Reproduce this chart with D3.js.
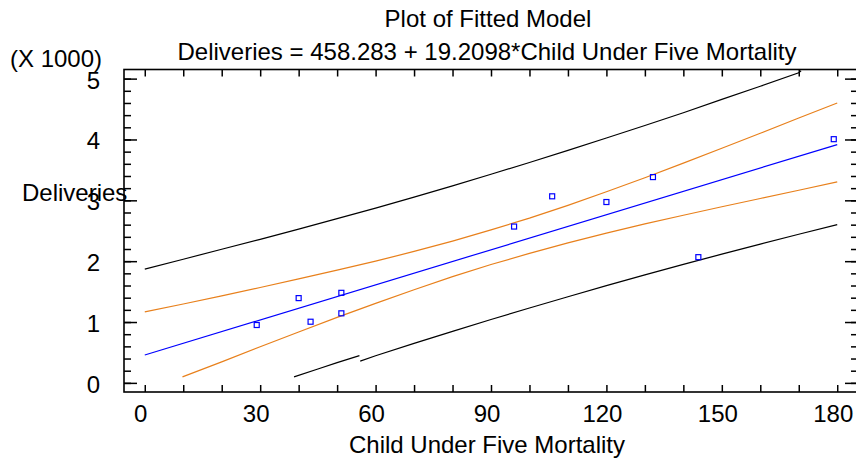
<!DOCTYPE html>
<html>
<head>
<meta charset="utf-8">
<script src="https://cdn.jsdelivr.net/npm/d3@7"></script>
<style>
  body { margin: 0; background: #fff; }
  text { font-family: "Liberation Sans", Arial, sans-serif; fill: #000; }
</style>
</head>
<body>
<svg id="chart" width="856" height="461"></svg>
<script>
// observations (deliveries in thousands)
const mortality  = [29.1, 40.0, 43.1, 51.1, 51.1, 96.0, 105.9, 120.0, 132.1, 143.9, 179.1];
const deliveries = [0.951, 1.393, 1.005, 1.480, 1.143, 2.569, 3.066, 2.972, 3.382, 2.066, 4.005];

// fitted line
const fitX = [0, 180];
const fitY = [0.458, 3.916];

// confidence limits (orange)
const upperConfX = [0, 10, 20, 30, 40, 50, 60, 70, 80, 90, 100, 110, 120, 130, 140, 150, 160, 170, 180];
const upperConfY = [1.167, 1.296, 1.429, 1.567, 1.710, 1.852, 2.000, 2.160, 2.330, 2.515, 2.708, 2.918, 3.140, 3.372, 3.612, 3.855, 4.102, 4.352, 4.600];
const lowerConfX = [9.8, 20, 30, 40, 50, 60, 70, 80, 90, 100, 110, 120, 130, 140, 150, 160, 170, 180];
const lowerConfY = [0.098, 0.345, 0.593, 0.837, 1.076, 1.307, 1.531, 1.745, 1.945, 2.128, 2.300, 2.460, 2.612, 2.755, 2.895, 3.030, 3.165, 3.303];

// prediction limits (black); the lower one is drawn in two pieces
const upperPredX = [0, 10, 20, 30, 40, 50, 60, 70, 80, 90, 100, 110, 120, 130, 140, 150, 160, 170, 170.6];
const upperPredY = [1.870, 2.032, 2.196, 2.358, 2.528, 2.698, 2.872, 3.053, 3.238, 3.428, 3.622, 3.821, 4.024, 4.230, 4.440, 4.659, 4.874, 5.095, 5.13];
const lowerPredAX = [38.8, 45, 50, 55.8];
const lowerPredAY = [0.098, 0.228, 0.332, 0.447];
const lowerPredBX = [56.0, 60, 70, 80, 90, 100, 110, 120, 130, 140, 150, 160, 170, 180];
const lowerPredBY = [0.358, 0.445, 0.648, 0.847, 1.041, 1.231, 1.416, 1.597, 1.774, 1.947, 2.116, 2.281, 2.442, 2.600];

// axis labels
const xTickLabels = [0, 30, 60, 90, 120, 150, 180];
const yTickLabels = [0, 1, 2, 3, 4, 5];

const svg = d3.select("#chart");
const plotLeft = 124, plotRight = 858, plotTop = 69.5, plotBottom = 392;

const x = d3.scaleLinear().domain([-5.4, 185.4]).range([plotLeft, plotRight]);
const y = d3.scaleLinear().domain([-0.15, 5.15]).range([plotBottom, plotTop]);

// ticks, all pointing inward
const xMinor = d3.range(0, 181, 10);
const yMinor = d3.range(0, 5.01, 0.2);

function styleAxis(g) {
  g.select(".domain").remove();
  g.selectAll(".tick line").attr("stroke", "#000").attr("stroke-width", 1.5);
  g.selectAll(".tick text").remove();
}

svg.append("g").attr("transform", `translate(0,${plotBottom})`)
  .call(d3.axisBottom(x).tickValues(xMinor).tickSize(-7)).call(styleAxis);
svg.append("g").attr("transform", `translate(0,${plotTop})`)
  .call(d3.axisTop(x).tickValues(xMinor).tickSize(-7)).call(styleAxis);
svg.append("g").attr("transform", `translate(${plotLeft},0)`)
  .call(d3.axisLeft(y).tickValues(yMinor).tickSize(-7)).call(styleAxis);
svg.append("g").attr("transform", `translate(${plotLeft},0)`)
  .call(d3.axisLeft(y).tickValues(yTickLabels).tickSize(-13)).call(styleAxis);
svg.append("g").attr("transform", `translate(${plotRight},0)`)
  .call(d3.axisRight(y).tickValues(yMinor).tickSize(-7)).call(styleAxis);
svg.append("g").attr("transform", `translate(${plotRight},0)`)
  .call(d3.axisRight(y).tickValues(yTickLabels).tickSize(-13)).call(styleAxis);

// frame
svg.append("rect")
  .attr("x", plotLeft).attr("y", plotTop)
  .attr("width", plotRight - plotLeft).attr("height", plotBottom - plotTop)
  .attr("fill", "none").attr("stroke", "#000").attr("stroke-width", 1.6);

// curves
const line = d3.line().x(d => x(d[0])).y(d => y(d[1]));
function curve(xs, ys, color) {
  svg.append("path")
    .datum(d3.zip(xs, ys))
    .attr("d", line)
    .attr("fill", "none")
    .attr("stroke", color)
    .attr("stroke-width", 1.2);
}
curve(upperPredX, upperPredY, "#000");
curve(lowerPredAX, lowerPredAY, "#000");
curve(lowerPredBX, lowerPredBY, "#000");
curve(upperConfX, upperConfY, "#e8801c");
curve(lowerConfX, lowerConfY, "#e8801c");
curve(fitX, fitY, "#0000ff");

// observed points
svg.append("g").selectAll("rect")
  .data(d3.zip(mortality, deliveries))
  .enter()
  .append("rect")
  .attr("x", d => x(d[0]) - 2.5)
  .attr("y", d => y(d[1]) - 2.5)
  .attr("width", 5).attr("height", 5)
  .attr("fill", "none")
  .attr("stroke", "#0000ff")
  .attr("stroke-width", 1.2);

// tick labels
svg.append("g").selectAll("text")
  .data(xTickLabels)
  .enter()
  .append("text")
  .attr("x", d => x(d) - 4)
  .attr("y", 422)
  .attr("text-anchor", "middle")
  .style("font-size", "24px")
  .text(d => d);

svg.append("g").selectAll("text")
  .data(yTickLabels)
  .enter()
  .append("text")
  .attr("x", 100)
  .attr("y", d => y(d) + 10)
  .attr("text-anchor", "end")
  .style("font-size", "24px")
  .text(d => d);

// titles
svg.append("text").attr("x", 488).attr("y", 27).attr("text-anchor", "middle")
  .style("font-size", "24px").text("Plot of Fitted Model");
svg.append("text").attr("x", 487).attr("y", 60).attr("text-anchor", "middle")
  .style("font-size", "24px").text("Deliveries = 458.283 + 19.2098*Child Under Five Mortality");
svg.append("text").attr("x", 487).attr("y", 453).attr("text-anchor", "middle")
  .style("font-size", "24px").text("Child Under Five Mortality");
svg.append("text").attr("x", 10).attr("y", 67)
  .style("font-size", "24px").text("(X 1000)");
svg.append("text").attr("x", 22).attr("y", 201)
  .style("font-size", "24px").text("Deliveries");
</script>
</body>
</html>
